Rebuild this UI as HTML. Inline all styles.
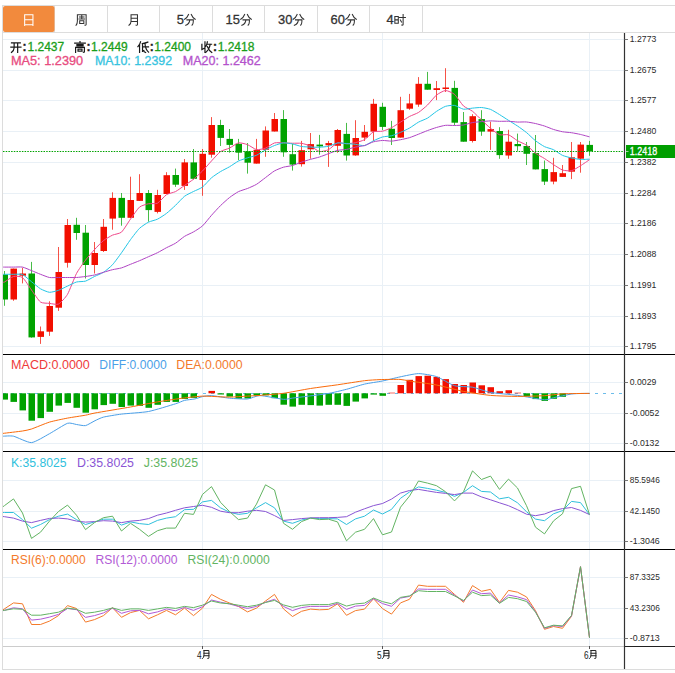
<!DOCTYPE html>
<html><head><meta charset="utf-8"><style>
html,body{margin:0;padding:0;background:#fff;width:675px;height:673px;overflow:hidden;}
svg{display:block;}
text{font-family:"Liberation Sans",sans-serif;}
</style></head><body>
<svg width="675" height="673" viewBox="0 0 675 673" font-family="Liberation Sans, sans-serif">
<rect width="675" height="673" fill="#ffffff"/>
<defs><clipPath id="cp"><rect x="3" y="33" width="621" height="613"/></clipPath></defs>
<line x1="2" y1="5.5" x2="675" y2="5.5" stroke="#dcdcdc" stroke-width="1"/>
<line x1="2" y1="32.5" x2="675" y2="32.5" stroke="#dddddd" stroke-width="1"/>
<line x1="54.5" y1="6" x2="54.5" y2="32" stroke="#dcdcdc" stroke-width="1"/>
<line x1="107.5" y1="6" x2="107.5" y2="32" stroke="#dcdcdc" stroke-width="1"/>
<line x1="159.5" y1="6" x2="159.5" y2="32" stroke="#dcdcdc" stroke-width="1"/>
<line x1="212.5" y1="6" x2="212.5" y2="32" stroke="#dcdcdc" stroke-width="1"/>
<line x1="264.5" y1="6" x2="264.5" y2="32" stroke="#dcdcdc" stroke-width="1"/>
<line x1="317.5" y1="6" x2="317.5" y2="32" stroke="#dcdcdc" stroke-width="1"/>
<line x1="369.5" y1="6" x2="369.5" y2="32" stroke="#dcdcdc" stroke-width="1"/>
<line x1="422.5" y1="6" x2="422.5" y2="32" stroke="#dcdcdc" stroke-width="1"/>
<rect x="3" y="6" width="51.5" height="26" rx="2" fill="#f28a3d"/>
<path transform="translate(23.05,14.00) scale(1.1500)" d="M1.4,0.6H8.6V9.4H1.4Z M1.4,5H8.6 M1.4,9.4V10 M8.6,9.4V10" fill="none" stroke="#ffffff" stroke-width="0.913" stroke-linecap="square"/>
<path transform="translate(75.55,14.00) scale(1.1500)" d="M1.6,0.6V6Q1.6,8.6 0.4,9.8 M1.6,0.6H9.2V9.2Q9.2,9.9 8.2,9.7 M3.4,2.6H7.4 M5.4,1.4V4.4 M3,4.4H7.8 M3.6,5.9H7.2V8.3H3.6Z" fill="none" stroke="#333333" stroke-width="0.913" stroke-linecap="square"/>
<path transform="translate(128.05,14.00) scale(1.1500)" d="M2.6,0.6V6Q2.6,8.6 0.8,9.8 M2.6,0.6H8.2V9.2Q8.2,9.9 7,9.7 M2.6,3.7H8.2 M2.6,6.5H8.2" fill="none" stroke="#333333" stroke-width="0.913" stroke-linecap="square"/>
<text x="176.7" y="24.2" fill="#333333" font-size="13" textLength="7.2" lengthAdjust="spacingAndGlyphs" stroke="#333333" stroke-width="0.3" >5</text>
<path transform="translate(184.15,14.00) scale(1.1500)" d="M3.8,0.4Q2.8,3 0.4,4.6 M6.2,0.4Q7.2,3 9.6,4.6 M2.4,5.1H8Q8,9.2 6.8,9.7 M4.9,5.1Q4.6,8.6 1.4,9.8" fill="none" stroke="#333333" stroke-width="0.913" stroke-linecap="square"/>
<text x="225.6" y="24.2" fill="#333333" font-size="13" textLength="14.4" lengthAdjust="spacingAndGlyphs" stroke="#333333" stroke-width="0.3" >15</text>
<path transform="translate(240.25,14.00) scale(1.1500)" d="M3.8,0.4Q2.8,3 0.4,4.6 M6.2,0.4Q7.2,3 9.6,4.6 M2.4,5.1H8Q8,9.2 6.8,9.7 M4.9,5.1Q4.6,8.6 1.4,9.8" fill="none" stroke="#333333" stroke-width="0.913" stroke-linecap="square"/>
<text x="278.1" y="24.2" fill="#333333" font-size="13" textLength="14.4" lengthAdjust="spacingAndGlyphs" stroke="#333333" stroke-width="0.3" >30</text>
<path transform="translate(292.75,14.00) scale(1.1500)" d="M3.8,0.4Q2.8,3 0.4,4.6 M6.2,0.4Q7.2,3 9.6,4.6 M2.4,5.1H8Q8,9.2 6.8,9.7 M4.9,5.1Q4.6,8.6 1.4,9.8" fill="none" stroke="#333333" stroke-width="0.913" stroke-linecap="square"/>
<text x="330.6" y="24.2" fill="#333333" font-size="13" textLength="14.4" lengthAdjust="spacingAndGlyphs" stroke="#333333" stroke-width="0.3" >60</text>
<path transform="translate(345.25,14.00) scale(1.1500)" d="M3.8,0.4Q2.8,3 0.4,4.6 M6.2,0.4Q7.2,3 9.6,4.6 M2.4,5.1H8Q8,9.2 6.8,9.7 M4.9,5.1Q4.6,8.6 1.4,9.8" fill="none" stroke="#333333" stroke-width="0.913" stroke-linecap="square"/>
<text x="386.6" y="24.2" fill="#333333" font-size="13" textLength="7.2" lengthAdjust="spacingAndGlyphs" stroke="#333333" stroke-width="0.3" >4</text>
<path transform="translate(394.15,14.00) scale(1.1500)" d="M0.6,2.2H3.6V8H0.6Z M0.6,5.1H3.6 M4.6,3H9.8 M7.8,0.4V9.2Q7.8,9.9 6.6,9.6 M5.4,5.2L6.4,7" fill="none" stroke="#333333" stroke-width="0.913" stroke-linecap="square"/>
<line x1="2.5" y1="5" x2="2.5" y2="670" stroke="#dcdcdc" stroke-width="1"/>
<line x1="2" y1="669.5" x2="675" y2="669.5" stroke="#dcdcdc" stroke-width="1"/>
<line x1="3" y1="39.5" x2="624" y2="39.5" stroke="#e9f0f6" stroke-width="1"/>
<line x1="3" y1="70.5" x2="624" y2="70.5" stroke="#e9f0f6" stroke-width="1"/>
<line x1="3" y1="100.5" x2="624" y2="100.5" stroke="#e9f0f6" stroke-width="1"/>
<line x1="3" y1="131.5" x2="624" y2="131.5" stroke="#e9f0f6" stroke-width="1"/>
<line x1="3" y1="162.5" x2="624" y2="162.5" stroke="#e9f0f6" stroke-width="1"/>
<line x1="3" y1="193.5" x2="624" y2="193.5" stroke="#e9f0f6" stroke-width="1"/>
<line x1="3" y1="223.5" x2="624" y2="223.5" stroke="#e9f0f6" stroke-width="1"/>
<line x1="3" y1="254.5" x2="624" y2="254.5" stroke="#e9f0f6" stroke-width="1"/>
<line x1="3" y1="285.5" x2="624" y2="285.5" stroke="#e9f0f6" stroke-width="1"/>
<line x1="3" y1="316.5" x2="624" y2="316.5" stroke="#e9f0f6" stroke-width="1"/>
<line x1="3" y1="346.5" x2="624" y2="346.5" stroke="#e9f0f6" stroke-width="1"/>
<line x1="3" y1="382.5" x2="624" y2="382.5" stroke="#e9f0f6" stroke-width="1"/>
<line x1="3" y1="413.5" x2="624" y2="413.5" stroke="#e9f0f6" stroke-width="1"/>
<line x1="3" y1="443.5" x2="624" y2="443.5" stroke="#e9f0f6" stroke-width="1"/>
<line x1="3" y1="480.5" x2="624" y2="480.5" stroke="#e9f0f6" stroke-width="1"/>
<line x1="3" y1="511.5" x2="624" y2="511.5" stroke="#e9f0f6" stroke-width="1"/>
<line x1="3" y1="541.5" x2="624" y2="541.5" stroke="#e9f0f6" stroke-width="1"/>
<line x1="3" y1="577.5" x2="624" y2="577.5" stroke="#e9f0f6" stroke-width="1"/>
<line x1="3" y1="608.5" x2="624" y2="608.5" stroke="#e9f0f6" stroke-width="1"/>
<line x1="3" y1="638.5" x2="624" y2="638.5" stroke="#e9f0f6" stroke-width="1"/>
<line x1="202.5" y1="33" x2="202.5" y2="646" stroke="#e9f0f6" stroke-width="1"/>
<line x1="382.5" y1="33" x2="382.5" y2="646" stroke="#e9f0f6" stroke-width="1"/>
<line x1="589.5" y1="33" x2="589.5" y2="646" stroke="#e9f0f6" stroke-width="1"/>
<line x1="3" y1="354.5" x2="675" y2="354.5" stroke="#000000" stroke-width="1"/>
<line x1="3" y1="451.5" x2="675" y2="451.5" stroke="#000000" stroke-width="1"/>
<line x1="3" y1="549.5" x2="675" y2="549.5" stroke="#000000" stroke-width="1"/>
<line x1="3" y1="646.5" x2="624" y2="646.5" stroke="#cccccc" stroke-width="1"/>
<line x1="624" y1="646.5" x2="675" y2="646.5" stroke="#222222" stroke-width="1.2"/>
<line x1="624.5" y1="33" x2="624.5" y2="669" stroke="#333333" stroke-width="1.2"/>
<line x1="624.5" y1="39.5" x2="628" y2="39.5" stroke="#777777" stroke-width="1"/>
<text x="629.8" y="42.1" fill="#2a2a2a" font-size="9.5" textLength="26.5" lengthAdjust="spacingAndGlyphs" >1.2773</text>
<line x1="624.5" y1="70.5" x2="628" y2="70.5" stroke="#777777" stroke-width="1"/>
<text x="629.8" y="73.1" fill="#2a2a2a" font-size="9.5" textLength="26.5" lengthAdjust="spacingAndGlyphs" >1.2675</text>
<line x1="624.5" y1="100.5" x2="628" y2="100.5" stroke="#777777" stroke-width="1"/>
<text x="629.8" y="103.1" fill="#2a2a2a" font-size="9.5" textLength="26.5" lengthAdjust="spacingAndGlyphs" >1.2577</text>
<line x1="624.5" y1="131.5" x2="628" y2="131.5" stroke="#777777" stroke-width="1"/>
<text x="629.8" y="134.1" fill="#2a2a2a" font-size="9.5" textLength="26.5" lengthAdjust="spacingAndGlyphs" >1.2480</text>
<line x1="624.5" y1="162.5" x2="628" y2="162.5" stroke="#777777" stroke-width="1"/>
<text x="629.8" y="165.1" fill="#2a2a2a" font-size="9.5" textLength="26.5" lengthAdjust="spacingAndGlyphs" >1.2382</text>
<line x1="624.5" y1="193.5" x2="628" y2="193.5" stroke="#777777" stroke-width="1"/>
<text x="629.8" y="196.1" fill="#2a2a2a" font-size="9.5" textLength="26.5" lengthAdjust="spacingAndGlyphs" >1.2284</text>
<line x1="624.5" y1="223.5" x2="628" y2="223.5" stroke="#777777" stroke-width="1"/>
<text x="629.8" y="226.1" fill="#2a2a2a" font-size="9.5" textLength="26.5" lengthAdjust="spacingAndGlyphs" >1.2186</text>
<line x1="624.5" y1="254.5" x2="628" y2="254.5" stroke="#777777" stroke-width="1"/>
<text x="629.8" y="257.1" fill="#2a2a2a" font-size="9.5" textLength="26.5" lengthAdjust="spacingAndGlyphs" >1.2088</text>
<line x1="624.5" y1="285.5" x2="628" y2="285.5" stroke="#777777" stroke-width="1"/>
<text x="629.8" y="288.1" fill="#2a2a2a" font-size="9.5" textLength="26.5" lengthAdjust="spacingAndGlyphs" >1.1991</text>
<line x1="624.5" y1="316.5" x2="628" y2="316.5" stroke="#777777" stroke-width="1"/>
<text x="629.8" y="319.1" fill="#2a2a2a" font-size="9.5" textLength="26.5" lengthAdjust="spacingAndGlyphs" >1.1893</text>
<line x1="624.5" y1="346.5" x2="628" y2="346.5" stroke="#777777" stroke-width="1"/>
<text x="629.8" y="349.1" fill="#2a2a2a" font-size="9.5" textLength="26.5" lengthAdjust="spacingAndGlyphs" >1.1795</text>
<line x1="624.5" y1="382.5" x2="628" y2="382.5" stroke="#777777" stroke-width="1"/>
<text x="629.8" y="385.1" fill="#2a2a2a" font-size="9.5" textLength="26.5" lengthAdjust="spacingAndGlyphs" >0.0029</text>
<line x1="624.5" y1="413.5" x2="628" y2="413.5" stroke="#777777" stroke-width="1"/>
<text x="629.8" y="416.1" fill="#2a2a2a" font-size="9.5" textLength="29.5" lengthAdjust="spacingAndGlyphs" >-0.0052</text>
<line x1="624.5" y1="443.5" x2="628" y2="443.5" stroke="#777777" stroke-width="1"/>
<text x="629.8" y="446.1" fill="#2a2a2a" font-size="9.5" textLength="29.5" lengthAdjust="spacingAndGlyphs" >-0.0132</text>
<line x1="624.5" y1="480.5" x2="628" y2="480.5" stroke="#777777" stroke-width="1"/>
<text x="629.8" y="483.1" fill="#2a2a2a" font-size="9.5" textLength="30" lengthAdjust="spacingAndGlyphs" >85.5946</text>
<line x1="624.5" y1="511.5" x2="628" y2="511.5" stroke="#777777" stroke-width="1"/>
<text x="629.8" y="514.1" fill="#2a2a2a" font-size="9.5" textLength="30" lengthAdjust="spacingAndGlyphs" >42.1450</text>
<line x1="624.5" y1="541.5" x2="628" y2="541.5" stroke="#777777" stroke-width="1"/>
<text x="629.8" y="544.1" fill="#2a2a2a" font-size="9.5" textLength="30" lengthAdjust="spacingAndGlyphs" >-1.3046</text>
<line x1="624.5" y1="577.5" x2="628" y2="577.5" stroke="#777777" stroke-width="1"/>
<text x="629.8" y="580.1" fill="#2a2a2a" font-size="9.5" textLength="30" lengthAdjust="spacingAndGlyphs" >87.3325</text>
<line x1="624.5" y1="608.5" x2="628" y2="608.5" stroke="#777777" stroke-width="1"/>
<text x="629.8" y="611.1" fill="#2a2a2a" font-size="9.5" textLength="30" lengthAdjust="spacingAndGlyphs" >43.2306</text>
<line x1="624.5" y1="638.5" x2="628" y2="638.5" stroke="#777777" stroke-width="1"/>
<text x="629.8" y="641.1" fill="#2a2a2a" font-size="9.5" textLength="30" lengthAdjust="spacingAndGlyphs" >-0.8713</text>
<line x1="202.5" y1="646" x2="202.5" y2="649" stroke="#555555" stroke-width="1"/>
<text x="196.9" y="659" fill="#222222" font-size="10.5" textLength="4.6" lengthAdjust="spacingAndGlyphs" >4</text>
<path transform="translate(201.70,650.00) scale(0.8800)" d="M2.6,0.6V6Q2.6,8.6 0.8,9.8 M2.6,0.6H8.2V9.2Q8.2,9.9 7,9.7 M2.6,3.7H8.2 M2.6,6.5H8.2" fill="none" stroke="#222222" stroke-width="1.136" stroke-linecap="square"/>
<line x1="382.5" y1="646" x2="382.5" y2="649" stroke="#555555" stroke-width="1"/>
<text x="376.9" y="659" fill="#222222" font-size="10.5" textLength="4.6" lengthAdjust="spacingAndGlyphs" >5</text>
<path transform="translate(381.70,650.00) scale(0.8800)" d="M2.6,0.6V6Q2.6,8.6 0.8,9.8 M2.6,0.6H8.2V9.2Q8.2,9.9 7,9.7 M2.6,3.7H8.2 M2.6,6.5H8.2" fill="none" stroke="#222222" stroke-width="1.136" stroke-linecap="square"/>
<line x1="589.5" y1="646" x2="589.5" y2="649" stroke="#555555" stroke-width="1"/>
<text x="583.9" y="659" fill="#222222" font-size="10.5" textLength="4.6" lengthAdjust="spacingAndGlyphs" >6</text>
<path transform="translate(588.70,650.00) scale(0.8800)" d="M2.6,0.6V6Q2.6,8.6 0.8,9.8 M2.6,0.6H8.2V9.2Q8.2,9.9 7,9.7 M2.6,3.7H8.2 M2.6,6.5H8.2" fill="none" stroke="#222222" stroke-width="1.136" stroke-linecap="square"/>
<g clip-path="url(#cp)">
<line x1="4.5" y1="271.0" x2="4.5" y2="305.8" stroke="#00a200" stroke-opacity="0.72" stroke-width="1"/>
<rect x="1.5" y="274.5" width="6.5" height="25.0" fill="#00a200"/>
<line x1="13.5" y1="268.6" x2="13.5" y2="300.8" stroke="#f20f00" stroke-opacity="0.72" stroke-width="1"/>
<rect x="10.5" y="268.6" width="6.5" height="30.9" fill="#f20f00"/>
<line x1="22.5" y1="267.8" x2="22.5" y2="283.4" stroke="#f20f00" stroke-opacity="0.72" stroke-width="1"/>
<rect x="19.5" y="273.5" width="6.5" height="2.2" fill="#f20f00"/>
<line x1="31.5" y1="261.9" x2="31.5" y2="337.7" stroke="#00a200" stroke-opacity="0.72" stroke-width="1"/>
<rect x="28.5" y="273.5" width="6.5" height="63.9" fill="#00a200"/>
<line x1="40.5" y1="326.5" x2="40.5" y2="343.9" stroke="#f20f00" stroke-opacity="0.72" stroke-width="1"/>
<rect x="37.5" y="331.3" width="6.5" height="5.6" fill="#f20f00"/>
<line x1="49.5" y1="301.3" x2="49.5" y2="335.9" stroke="#f20f00" stroke-opacity="0.72" stroke-width="1"/>
<rect x="46.5" y="306.0" width="6.5" height="25.7" fill="#f20f00"/>
<line x1="58.5" y1="247.0" x2="58.5" y2="310.9" stroke="#f20f00" stroke-opacity="0.72" stroke-width="1"/>
<rect x="55.5" y="272.0" width="6.5" height="35.7" fill="#f20f00"/>
<line x1="67.5" y1="219.0" x2="67.5" y2="267.6" stroke="#f20f00" stroke-opacity="0.72" stroke-width="1"/>
<rect x="64.5" y="225.0" width="6.5" height="37.8" fill="#f20f00"/>
<line x1="76.5" y1="217.8" x2="76.5" y2="239.8" stroke="#00a200" stroke-opacity="0.72" stroke-width="1"/>
<rect x="73.5" y="224.8" width="6.5" height="8.2" fill="#00a200"/>
<line x1="85.5" y1="225.0" x2="85.5" y2="278.5" stroke="#00a200" stroke-opacity="0.72" stroke-width="1"/>
<rect x="82.5" y="232.7" width="6.5" height="32.3" fill="#00a200"/>
<line x1="94.5" y1="242.0" x2="94.5" y2="273.5" stroke="#f20f00" stroke-opacity="0.72" stroke-width="1"/>
<rect x="91.5" y="253.0" width="6.5" height="12.0" fill="#f20f00"/>
<line x1="103.5" y1="219.0" x2="103.5" y2="252.0" stroke="#f20f00" stroke-opacity="0.72" stroke-width="1"/>
<rect x="100.5" y="226.8" width="6.5" height="24.2" fill="#f20f00"/>
<line x1="112.5" y1="192.3" x2="112.5" y2="229.7" stroke="#f20f00" stroke-opacity="0.72" stroke-width="1"/>
<rect x="109.5" y="197.9" width="6.5" height="20.7" fill="#f20f00"/>
<line x1="121.5" y1="193.0" x2="121.5" y2="225.7" stroke="#00a200" stroke-opacity="0.72" stroke-width="1"/>
<rect x="118.5" y="197.9" width="6.5" height="19.9" fill="#00a200"/>
<line x1="130.5" y1="176.7" x2="130.5" y2="218.0" stroke="#f20f00" stroke-opacity="0.72" stroke-width="1"/>
<rect x="127.5" y="200.0" width="6.5" height="17.8" fill="#f20f00"/>
<line x1="139.5" y1="174.2" x2="139.5" y2="201.0" stroke="#f20f00" stroke-opacity="0.72" stroke-width="1"/>
<rect x="136.5" y="193.0" width="6.5" height="7.9" fill="#f20f00"/>
<line x1="148.5" y1="190.0" x2="148.5" y2="221.7" stroke="#00a200" stroke-opacity="0.72" stroke-width="1"/>
<rect x="145.5" y="193.0" width="6.5" height="17.1" fill="#00a200"/>
<line x1="157.5" y1="189.8" x2="157.5" y2="213.4" stroke="#f20f00" stroke-opacity="0.72" stroke-width="1"/>
<rect x="154.5" y="195.0" width="6.5" height="16.9" fill="#f20f00"/>
<line x1="166.5" y1="172.2" x2="166.5" y2="194.0" stroke="#f20f00" stroke-opacity="0.72" stroke-width="1"/>
<rect x="163.5" y="175.2" width="6.5" height="18.8" fill="#f20f00"/>
<line x1="175.5" y1="168.6" x2="175.5" y2="186.9" stroke="#00a200" stroke-opacity="0.72" stroke-width="1"/>
<rect x="172.5" y="175.0" width="6.5" height="9.7" fill="#00a200"/>
<line x1="184.5" y1="159.0" x2="184.5" y2="189.9" stroke="#f20f00" stroke-opacity="0.72" stroke-width="1"/>
<rect x="181.5" y="162.4" width="6.5" height="23.5" fill="#f20f00"/>
<line x1="193.5" y1="149.0" x2="193.5" y2="179.5" stroke="#00a200" stroke-opacity="0.72" stroke-width="1"/>
<rect x="190.5" y="162.4" width="6.5" height="16.4" fill="#00a200"/>
<line x1="202.5" y1="149.0" x2="202.5" y2="195.8" stroke="#f20f00" stroke-opacity="0.72" stroke-width="1"/>
<rect x="199.5" y="153.8" width="6.5" height="26.2" fill="#f20f00"/>
<line x1="211.5" y1="117.1" x2="211.5" y2="157.7" stroke="#f20f00" stroke-opacity="0.72" stroke-width="1"/>
<rect x="208.5" y="125.0" width="6.5" height="29.7" fill="#f20f00"/>
<line x1="220.5" y1="119.8" x2="220.5" y2="146.0" stroke="#00a200" stroke-opacity="0.72" stroke-width="1"/>
<rect x="217.5" y="125.0" width="6.5" height="12.9" fill="#00a200"/>
<line x1="229.5" y1="129.0" x2="229.5" y2="152.7" stroke="#00a200" stroke-opacity="0.72" stroke-width="1"/>
<rect x="226.5" y="138.9" width="6.5" height="6.0" fill="#00a200"/>
<line x1="238.5" y1="138.9" x2="238.5" y2="160.2" stroke="#00a200" stroke-opacity="0.72" stroke-width="1"/>
<rect x="235.5" y="143.8" width="6.5" height="8.9" fill="#00a200"/>
<line x1="247.5" y1="143.0" x2="247.5" y2="173.6" stroke="#00a200" stroke-opacity="0.72" stroke-width="1"/>
<rect x="244.5" y="151.3" width="6.5" height="11.4" fill="#00a200"/>
<line x1="256.5" y1="138.9" x2="256.5" y2="163.6" stroke="#f20f00" stroke-opacity="0.72" stroke-width="1"/>
<rect x="253.5" y="149.8" width="6.5" height="13.8" fill="#f20f00"/>
<line x1="265.5" y1="126.4" x2="265.5" y2="156.8" stroke="#f20f00" stroke-opacity="0.72" stroke-width="1"/>
<rect x="262.5" y="130.5" width="6.5" height="19.3" fill="#f20f00"/>
<line x1="274.5" y1="113.0" x2="274.5" y2="131.5" stroke="#f20f00" stroke-opacity="0.72" stroke-width="1"/>
<rect x="271.5" y="119.0" width="6.5" height="12.5" fill="#f20f00"/>
<line x1="283.5" y1="110.1" x2="283.5" y2="156.8" stroke="#00a200" stroke-opacity="0.72" stroke-width="1"/>
<rect x="280.5" y="119.0" width="6.5" height="33.3" fill="#00a200"/>
<line x1="292.5" y1="143.8" x2="292.5" y2="170.6" stroke="#00a200" stroke-opacity="0.72" stroke-width="1"/>
<rect x="289.5" y="154.2" width="6.5" height="10.4" fill="#00a200"/>
<line x1="301.5" y1="140.9" x2="301.5" y2="166.6" stroke="#f20f00" stroke-opacity="0.72" stroke-width="1"/>
<rect x="298.5" y="150.2" width="6.5" height="14.0" fill="#f20f00"/>
<line x1="310.5" y1="133.0" x2="310.5" y2="158.7" stroke="#f20f00" stroke-opacity="0.72" stroke-width="1"/>
<rect x="307.5" y="144.1" width="6.5" height="5.2" fill="#f20f00"/>
<line x1="319.5" y1="134.9" x2="319.5" y2="154.7" stroke="#00a200" stroke-opacity="0.72" stroke-width="1"/>
<rect x="316.5" y="144.6" width="6.5" height="1.8" fill="#00a200"/>
<line x1="328.5" y1="140.9" x2="328.5" y2="166.9" stroke="#f20f00" stroke-opacity="0.72" stroke-width="1"/>
<rect x="325.5" y="143.1" width="6.5" height="2.2" fill="#f20f00"/>
<line x1="337.5" y1="129.0" x2="337.5" y2="152.7" stroke="#f20f00" stroke-opacity="0.72" stroke-width="1"/>
<rect x="334.5" y="130.0" width="6.5" height="15.8" fill="#f20f00"/>
<line x1="346.5" y1="122.9" x2="346.5" y2="160.6" stroke="#00a200" stroke-opacity="0.72" stroke-width="1"/>
<rect x="343.5" y="133.9" width="6.5" height="21.6" fill="#00a200"/>
<line x1="355.5" y1="120.2" x2="355.5" y2="155.8" stroke="#f20f00" stroke-opacity="0.72" stroke-width="1"/>
<rect x="352.5" y="138.0" width="6.5" height="17.4" fill="#f20f00"/>
<line x1="364.5" y1="125.0" x2="364.5" y2="141.0" stroke="#f20f00" stroke-opacity="0.72" stroke-width="1"/>
<rect x="361.5" y="131.8" width="6.5" height="5.8" fill="#f20f00"/>
<line x1="373.5" y1="98.9" x2="373.5" y2="141.0" stroke="#f20f00" stroke-opacity="0.72" stroke-width="1"/>
<rect x="370.5" y="103.8" width="6.5" height="27.8" fill="#f20f00"/>
<line x1="382.5" y1="102.8" x2="382.5" y2="130.1" stroke="#00a200" stroke-opacity="0.72" stroke-width="1"/>
<rect x="379.5" y="106.8" width="6.5" height="20.1" fill="#00a200"/>
<line x1="391.5" y1="120.9" x2="391.5" y2="145.0" stroke="#00a200" stroke-opacity="0.72" stroke-width="1"/>
<rect x="388.5" y="128.8" width="6.5" height="9.2" fill="#00a200"/>
<line x1="400.5" y1="96.8" x2="400.5" y2="137.6" stroke="#f20f00" stroke-opacity="0.72" stroke-width="1"/>
<rect x="397.5" y="110.2" width="6.5" height="27.4" fill="#f20f00"/>
<line x1="409.5" y1="93.9" x2="409.5" y2="109.8" stroke="#f20f00" stroke-opacity="0.72" stroke-width="1"/>
<rect x="406.5" y="103.4" width="6.5" height="5.3" fill="#f20f00"/>
<line x1="418.5" y1="77.1" x2="418.5" y2="106.8" stroke="#f20f00" stroke-opacity="0.72" stroke-width="1"/>
<rect x="415.5" y="83.8" width="6.5" height="20.8" fill="#f20f00"/>
<line x1="427.5" y1="71.9" x2="427.5" y2="89.7" stroke="#00a200" stroke-opacity="0.72" stroke-width="1"/>
<rect x="424.5" y="83.8" width="6.5" height="5.9" fill="#00a200"/>
<line x1="436.5" y1="81.0" x2="436.5" y2="100.1" stroke="#f20f00" stroke-opacity="0.72" stroke-width="1"/>
<rect x="433.5" y="88.2" width="6.5" height="1.8" fill="#f20f00"/>
<line x1="445.5" y1="68.2" x2="445.5" y2="92.0" stroke="#f20f00" stroke-opacity="0.72" stroke-width="1"/>
<rect x="442.5" y="87.5" width="6.5" height="1.5" fill="#f20f00"/>
<line x1="454.5" y1="80.8" x2="454.5" y2="125.4" stroke="#00a200" stroke-opacity="0.72" stroke-width="1"/>
<rect x="451.5" y="87.9" width="6.5" height="34.8" fill="#00a200"/>
<line x1="463.5" y1="112.0" x2="463.5" y2="141.7" stroke="#00a200" stroke-opacity="0.72" stroke-width="1"/>
<rect x="460.5" y="122.1" width="6.5" height="19.6" fill="#00a200"/>
<line x1="472.5" y1="114.2" x2="472.5" y2="142.5" stroke="#f20f00" stroke-opacity="0.72" stroke-width="1"/>
<rect x="469.5" y="116.2" width="6.5" height="24.8" fill="#f20f00"/>
<line x1="481.5" y1="110.2" x2="481.5" y2="135.8" stroke="#00a200" stroke-opacity="0.72" stroke-width="1"/>
<rect x="478.5" y="119.1" width="6.5" height="12.5" fill="#00a200"/>
<line x1="490.5" y1="121.7" x2="490.5" y2="149.9" stroke="#f20f00" stroke-opacity="0.72" stroke-width="1"/>
<rect x="487.5" y="129.1" width="6.5" height="2.5" fill="#f20f00"/>
<line x1="499.5" y1="127.2" x2="499.5" y2="158.8" stroke="#00a200" stroke-opacity="0.72" stroke-width="1"/>
<rect x="496.5" y="131.0" width="6.5" height="24.1" fill="#00a200"/>
<line x1="508.5" y1="129.8" x2="508.5" y2="158.8" stroke="#f20f00" stroke-opacity="0.72" stroke-width="1"/>
<rect x="505.5" y="141.7" width="6.5" height="13.8" fill="#f20f00"/>
<line x1="517.5" y1="133.6" x2="517.5" y2="150.9" stroke="#00a200" stroke-opacity="0.72" stroke-width="1"/>
<rect x="514.5" y="144.0" width="6.5" height="2.2" fill="#00a200"/>
<line x1="526.5" y1="142.0" x2="526.5" y2="165.0" stroke="#00a200" stroke-opacity="0.72" stroke-width="1"/>
<rect x="523.5" y="146.0" width="6.5" height="7.8" fill="#00a200"/>
<line x1="535.5" y1="135.0" x2="535.5" y2="169.4" stroke="#00a200" stroke-opacity="0.72" stroke-width="1"/>
<rect x="532.5" y="153.1" width="6.5" height="16.3" fill="#00a200"/>
<line x1="544.5" y1="160.5" x2="544.5" y2="185.0" stroke="#00a200" stroke-opacity="0.72" stroke-width="1"/>
<rect x="541.5" y="169.1" width="6.5" height="12.5" fill="#00a200"/>
<line x1="553.5" y1="157.8" x2="553.5" y2="184.3" stroke="#f20f00" stroke-opacity="0.72" stroke-width="1"/>
<rect x="550.5" y="172.1" width="6.5" height="9.5" fill="#f20f00"/>
<line x1="562.5" y1="165.0" x2="562.5" y2="176.9" stroke="#f20f00" stroke-opacity="0.72" stroke-width="1"/>
<rect x="559.5" y="173.2" width="6.5" height="3.7" fill="#f20f00"/>
<line x1="571.5" y1="142.0" x2="571.5" y2="179.1" stroke="#f20f00" stroke-opacity="0.72" stroke-width="1"/>
<rect x="568.5" y="157.3" width="6.5" height="14.4" fill="#f20f00"/>
<line x1="580.5" y1="142.0" x2="580.5" y2="172.7" stroke="#f20f00" stroke-opacity="0.72" stroke-width="1"/>
<rect x="577.5" y="144.6" width="6.5" height="14.1" fill="#f20f00"/>
<line x1="589.5" y1="140.9" x2="589.5" y2="155.8" stroke="#00a200" stroke-opacity="0.72" stroke-width="1"/>
<rect x="586.5" y="144.9" width="6.5" height="6.4" fill="#00a200"/>
<path d="M3.00,282.00 C3.15,282.00 3.45,282.55 4.50,282.00 C5.55,281.45 11.70,276.95 13.50,276.50 C15.30,276.05 20.70,276.15 22.50,277.50 C24.30,278.85 29.70,287.54 31.50,290.00 C33.30,292.46 38.70,300.72 40.50,302.06 C42.30,303.40 47.70,303.16 49.50,303.36 C51.30,303.56 56.70,304.94 58.50,304.04 C60.30,303.14 65.70,297.40 67.50,294.34 C69.30,291.28 74.70,276.87 76.50,273.46 C78.30,270.05 83.70,262.59 85.50,260.20 C87.30,257.81 92.70,251.56 94.50,249.60 C96.30,247.64 101.70,242.01 103.50,240.56 C105.30,239.11 110.70,235.99 112.50,235.14 C114.30,234.29 119.70,233.70 121.50,232.10 C123.30,230.50 128.70,221.60 130.50,219.10 C132.30,216.60 137.70,208.63 139.50,207.10 C141.30,205.57 146.70,204.15 148.50,203.76 C150.30,203.37 155.70,204.09 157.50,203.18 C159.30,202.27 164.70,195.82 166.50,194.66 C168.30,193.50 173.70,192.52 175.50,191.60 C177.30,190.68 182.70,186.72 184.50,185.48 C186.30,184.24 191.70,180.67 193.50,179.22 C195.30,177.77 200.70,172.81 202.50,170.98 C204.30,169.15 209.70,162.88 211.50,160.94 C213.30,159.00 218.70,152.87 220.50,151.58 C222.30,150.29 227.70,148.95 229.50,148.08 C231.30,147.21 236.70,143.20 238.50,142.86 C240.30,142.52 245.70,143.97 247.50,144.64 C249.30,145.31 254.70,149.25 256.50,149.60 C258.30,149.95 263.70,148.79 265.50,148.12 C267.30,147.45 272.70,143.47 274.50,142.94 C276.30,142.41 281.70,142.83 283.50,142.86 C285.30,142.89 290.70,143.19 292.50,143.24 C294.30,143.29 299.70,143.04 301.50,143.32 C303.30,143.60 308.70,145.22 310.50,146.04 C312.30,146.86 317.70,151.16 319.50,151.52 C321.30,151.88 326.70,150.56 328.50,149.68 C330.30,148.80 335.70,143.35 337.50,142.76 C339.30,142.17 344.70,143.84 346.50,143.82 C348.30,143.80 353.70,143.01 355.50,142.60 C357.30,142.19 362.70,140.76 364.50,139.68 C366.30,138.60 371.70,132.67 373.50,131.82 C375.30,130.97 380.70,131.61 382.50,131.20 C384.30,130.79 389.70,128.61 391.50,127.70 C393.30,126.79 398.70,123.26 400.50,122.14 C402.30,121.02 407.70,117.43 409.50,116.46 C411.30,115.49 416.70,113.60 418.50,112.46 C420.30,111.32 425.70,106.76 427.50,105.02 C429.30,103.28 434.70,96.51 436.50,95.06 C438.30,93.61 443.70,90.59 445.50,90.52 C447.30,90.45 452.70,92.84 454.50,94.38 C456.30,95.92 461.70,104.27 463.50,105.96 C465.30,107.65 470.70,109.86 472.50,111.26 C474.30,112.66 479.70,118.24 481.50,119.94 C483.30,121.64 488.70,126.78 490.50,128.26 C492.30,129.74 497.70,134.09 499.50,134.74 C501.30,135.39 506.70,134.14 508.50,134.74 C510.30,135.34 515.70,139.70 517.50,140.74 C519.30,141.78 524.70,143.93 526.50,145.18 C528.30,146.43 533.70,151.90 535.50,153.24 C537.30,154.58 542.70,157.40 544.50,158.54 C546.30,159.68 551.70,163.47 553.50,164.62 C555.30,165.77 560.70,169.41 562.50,170.02 C564.30,170.63 569.70,171.15 571.50,170.72 C573.30,170.29 578.70,166.86 580.50,165.76 C582.30,164.66 588.60,160.31 589.50,159.70" fill="none" stroke="#f0488a" stroke-width="1.0"/>
<path d="M3.00,274.30 C3.15,274.30 3.45,274.30 4.50,274.30 C5.55,274.30 11.70,274.27 13.50,274.30 C15.30,274.33 20.70,273.86 22.50,274.60 C24.30,275.34 29.70,280.28 31.50,281.70 C33.30,283.12 38.70,287.74 40.50,288.80 C42.30,289.86 47.70,292.15 49.50,292.30 C51.30,292.45 56.70,290.92 58.50,290.30 C60.30,289.68 65.70,286.93 67.50,286.10 C69.30,285.27 74.70,282.50 76.50,282.00 C78.30,281.50 83.70,281.68 85.50,281.13 C87.30,280.58 92.70,277.36 94.50,276.48 C96.30,275.60 101.70,273.47 103.50,272.30 C105.30,271.13 110.70,266.69 112.50,264.74 C114.30,262.79 119.70,255.29 121.50,252.78 C123.30,250.27 128.70,242.09 130.50,239.65 C132.30,237.21 137.70,230.10 139.50,228.35 C141.30,226.60 146.70,223.08 148.50,222.16 C150.30,221.24 155.70,220.04 157.50,219.16 C159.30,218.28 164.70,214.76 166.50,213.38 C168.30,212.00 173.70,207.06 175.50,205.35 C177.30,203.64 182.70,197.68 184.50,196.29 C186.30,194.90 191.70,192.41 193.50,191.49 C195.30,190.57 200.70,188.45 202.50,187.08 C204.30,185.71 209.70,179.35 211.50,177.80 C213.30,176.25 218.70,172.69 220.50,171.59 C222.30,170.49 227.70,167.84 229.50,166.78 C231.30,165.72 236.70,161.94 238.50,161.04 C240.30,160.14 245.70,158.39 247.50,157.81 C249.30,157.23 254.70,156.07 256.50,155.27 C258.30,154.47 263.70,150.83 265.50,149.85 C267.30,148.87 272.70,146.21 274.50,145.51 C276.30,144.81 281.70,143.02 283.50,142.86 C285.30,142.70 290.70,143.58 292.50,143.94 C294.30,144.30 299.70,146.15 301.50,146.46 C303.30,146.77 308.70,147.00 310.50,147.08 C312.30,147.16 317.70,147.31 319.50,147.23 C321.30,147.15 326.70,146.69 328.50,146.27 C330.30,145.85 335.70,143.27 337.50,143.00 C339.30,142.73 344.70,143.44 346.50,143.57 C348.30,143.70 353.70,144.12 355.50,144.32 C357.30,144.52 362.70,145.96 364.50,145.60 C366.30,145.24 371.70,141.61 373.50,140.75 C375.30,139.89 380.70,137.48 382.50,136.98 C384.30,136.48 389.70,136.22 391.50,135.76 C393.30,135.30 398.70,133.14 400.50,132.37 C402.30,131.60 407.70,129.09 409.50,128.07 C411.30,127.05 416.70,123.14 418.50,122.14 C420.30,121.14 425.70,119.19 427.50,118.11 C429.30,117.03 434.70,112.56 436.50,111.38 C438.30,110.20 443.70,106.93 445.50,106.33 C447.30,105.73 452.70,105.13 454.50,105.42 C456.30,105.71 461.70,108.94 463.50,109.21 C465.30,109.48 470.70,108.31 472.50,108.14 C474.30,107.97 479.70,107.38 481.50,107.50 C483.30,107.62 488.70,108.68 490.50,109.39 C492.30,110.10 497.70,113.46 499.50,114.56 C501.30,115.66 506.70,119.21 508.50,120.35 C510.30,121.49 515.70,124.78 517.50,126.00 C519.30,127.22 524.70,131.09 526.50,132.56 C528.30,134.03 533.70,139.34 535.50,140.75 C537.30,142.16 542.70,145.75 544.50,146.64 C546.30,147.53 551.70,148.81 553.50,149.68 C555.30,150.55 560.70,154.55 562.50,155.38 C564.30,156.21 569.70,157.54 571.50,157.95 C573.30,158.36 578.70,159.38 580.50,159.50 C582.30,159.62 588.60,159.16 589.50,159.12" fill="none" stroke="#24c6e6" stroke-width="1.0"/>
<path d="M3.00,267.10 C3.15,267.10 3.45,267.10 4.50,267.10 C5.55,267.10 11.70,267.10 13.50,267.10 C15.30,267.10 20.70,266.75 22.50,267.10 C24.30,267.45 29.70,269.88 31.50,270.60 C33.30,271.32 38.70,273.61 40.50,274.30 C42.30,274.99 47.70,277.18 49.50,277.50 C51.30,277.82 56.70,277.50 58.50,277.50 C60.30,277.50 65.70,277.50 67.50,277.50 C69.30,277.50 74.70,277.60 76.50,277.50 C78.30,277.40 83.70,276.75 85.50,276.50 C87.30,276.25 92.70,275.42 94.50,275.00 C96.30,274.58 101.70,272.83 103.50,272.30 C105.30,271.77 110.70,270.14 112.50,269.70 C114.30,269.26 119.70,268.44 121.50,267.90 C123.30,267.36 128.70,265.02 130.50,264.30 C132.30,263.58 137.70,261.46 139.50,260.70 C141.30,259.94 146.70,257.50 148.50,256.70 C150.30,255.90 155.70,253.60 157.50,252.70 C159.30,251.80 164.70,248.65 166.50,247.70 C168.30,246.75 173.70,244.37 175.50,243.24 C177.30,242.11 182.70,237.52 184.50,236.38 C186.30,235.25 191.70,232.94 193.50,231.89 C195.30,230.85 200.70,227.57 202.50,225.91 C204.30,224.25 209.70,217.32 211.50,215.29 C213.30,213.26 218.70,207.39 220.50,205.62 C222.30,203.85 227.70,198.97 229.50,197.56 C231.30,196.16 236.70,192.51 238.50,191.60 C240.30,190.69 245.70,189.21 247.50,188.48 C249.30,187.76 254.70,185.41 256.50,184.32 C258.30,183.24 263.70,178.94 265.50,177.60 C267.30,176.26 272.70,171.94 274.50,170.90 C276.30,169.86 281.70,167.71 283.50,167.18 C285.30,166.64 290.70,166.01 292.50,165.51 C294.30,165.01 299.70,162.75 301.50,162.13 C303.30,161.51 308.70,159.85 310.50,159.33 C312.30,158.82 317.70,157.57 319.50,157.00 C321.30,156.44 326.70,154.31 328.50,153.66 C330.30,153.00 335.70,150.83 337.50,150.41 C339.30,149.98 344.70,149.75 346.50,149.42 C348.30,149.09 353.70,147.47 355.50,147.08 C357.30,146.70 362.70,146.08 364.50,145.56 C366.30,145.03 371.70,142.31 373.50,141.81 C375.30,141.30 380.70,140.53 382.50,140.46 C384.30,140.39 389.70,141.18 391.50,141.11 C393.30,141.04 398.70,140.07 400.50,139.72 C402.30,139.38 407.70,138.20 409.50,137.65 C411.30,137.10 416.70,134.91 418.50,134.20 C420.30,133.50 425.70,131.23 427.50,130.56 C429.30,129.88 434.70,128.00 436.50,127.47 C438.30,126.95 443.70,125.52 445.50,125.33 C447.30,125.13 452.70,125.54 454.50,125.51 C456.30,125.48 461.70,125.27 463.50,124.98 C465.30,124.68 470.70,122.89 472.50,122.56 C474.30,122.22 479.70,121.80 481.50,121.63 C483.30,121.46 488.70,120.91 490.50,120.88 C492.30,120.85 497.70,121.28 499.50,121.32 C501.30,121.35 506.70,121.17 508.50,121.25 C510.30,121.32 515.70,121.98 517.50,122.05 C519.30,122.13 524.70,121.82 526.50,121.97 C528.30,122.12 533.70,123.13 535.50,123.54 C537.30,123.95 542.70,125.44 544.50,126.03 C546.30,126.62 551.70,128.87 553.50,129.44 C555.30,130.02 560.70,131.43 562.50,131.76 C564.30,132.09 569.70,132.46 571.50,132.72 C573.30,132.99 578.70,134.03 580.50,134.44 C582.30,134.86 588.60,136.60 589.50,136.84" fill="none" stroke="#b044c4" stroke-width="1.0"/>
</g>
<line x1="3" y1="151.5" x2="624" y2="151.5" stroke="#00a200" stroke-width="1.2" stroke-dasharray="1.5,1.2"/>
<rect x="626" y="145" width="49" height="13" fill="#009e00"/>
<text x="629.8" y="155" fill="#ffffff" font-size="10.5" textLength="27.3" lengthAdjust="spacingAndGlyphs" stroke="#ffffff" stroke-width="0.3">1.2418</text>
<line x1="626" y1="151.5" x2="628.5" y2="151.5" stroke="#9fd89f" stroke-width="1"/>
<line x1="3" y1="393.5" x2="624" y2="393.5" stroke="#6cbcea" stroke-width="1" stroke-dasharray="3,5"/>
<rect x="3" y="393.3" width="5.0" height="6.3" fill="#00a200"/>
<rect x="10.5" y="393.3" width="6.5" height="8.6" fill="#00a200"/>
<rect x="19.5" y="393.3" width="6.5" height="17.1" fill="#00a200"/>
<rect x="28.5" y="393.3" width="6.5" height="27.4" fill="#00a200"/>
<rect x="37.5" y="393.3" width="6.5" height="24.8" fill="#00a200"/>
<rect x="46.5" y="393.3" width="6.5" height="18.5" fill="#00a200"/>
<rect x="55.5" y="393.3" width="6.5" height="12.3" fill="#00a200"/>
<rect x="64.5" y="393.3" width="6.5" height="9.6" fill="#00a200"/>
<rect x="73.5" y="393.3" width="6.5" height="14.5" fill="#00a200"/>
<rect x="82.5" y="393.3" width="6.5" height="19.4" fill="#00a200"/>
<rect x="91.5" y="393.3" width="6.5" height="16.0" fill="#00a200"/>
<rect x="100.5" y="393.3" width="6.5" height="11.8" fill="#00a200"/>
<rect x="109.5" y="393.3" width="6.5" height="10.5" fill="#00a200"/>
<rect x="118.5" y="393.3" width="6.5" height="13.7" fill="#00a200"/>
<rect x="127.5" y="393.3" width="6.5" height="12.3" fill="#00a200"/>
<rect x="136.5" y="393.3" width="6.5" height="12.6" fill="#00a200"/>
<rect x="145.5" y="393.3" width="6.5" height="14.5" fill="#00a200"/>
<rect x="154.5" y="393.3" width="6.5" height="11.5" fill="#00a200"/>
<rect x="163.5" y="393.3" width="6.5" height="8.6" fill="#00a200"/>
<rect x="172.5" y="393.3" width="6.5" height="8.6" fill="#00a200"/>
<rect x="181.5" y="393.3" width="6.5" height="5.6" fill="#00a200"/>
<rect x="190.5" y="393.3" width="6.5" height="4.6" fill="#00a200"/>
<rect x="208.5" y="390.9" width="6.5" height="2.4" fill="#f20f00"/>
<rect x="217.5" y="393.3" width="6.5" height="1.2" fill="#00a200"/>
<rect x="226.5" y="393.3" width="6.5" height="3.3" fill="#00a200"/>
<rect x="235.5" y="393.3" width="6.5" height="5.4" fill="#00a200"/>
<rect x="244.5" y="393.3" width="6.5" height="5.2" fill="#00a200"/>
<rect x="253.5" y="393.3" width="6.5" height="2.4" fill="#00a200"/>
<rect x="262.5" y="393.3" width="6.5" height="2.0" fill="#00a200"/>
<rect x="271.5" y="393.3" width="6.5" height="4.9" fill="#00a200"/>
<rect x="280.5" y="393.3" width="6.5" height="11.4" fill="#00a200"/>
<rect x="289.5" y="393.3" width="6.5" height="13.3" fill="#00a200"/>
<rect x="298.5" y="393.3" width="6.5" height="11.5" fill="#00a200"/>
<rect x="307.5" y="393.3" width="6.5" height="11.8" fill="#00a200"/>
<rect x="316.5" y="393.3" width="6.5" height="12.3" fill="#00a200"/>
<rect x="325.5" y="393.3" width="6.5" height="11.5" fill="#00a200"/>
<rect x="334.5" y="393.3" width="6.5" height="11.5" fill="#00a200"/>
<rect x="343.5" y="393.3" width="6.5" height="12.6" fill="#00a200"/>
<rect x="352.5" y="393.3" width="6.5" height="8.3" fill="#00a200"/>
<rect x="361.5" y="393.3" width="6.5" height="5.1" fill="#00a200"/>
<rect x="370.5" y="393.3" width="6.5" height="1.3" fill="#00a200"/>
<rect x="379.5" y="393.3" width="6.5" height="2.5" fill="#00a200"/>
<rect x="388.5" y="392.7" width="6.5" height="0.6" fill="#f20f00"/>
<rect x="397.5" y="385.0" width="6.5" height="8.3" fill="#f20f00"/>
<rect x="406.5" y="379.8" width="6.5" height="13.5" fill="#f20f00"/>
<rect x="415.5" y="376.1" width="6.5" height="17.2" fill="#f20f00"/>
<rect x="424.5" y="375.7" width="6.5" height="17.6" fill="#f20f00"/>
<rect x="433.5" y="376.9" width="6.5" height="16.4" fill="#f20f00"/>
<rect x="442.5" y="379.1" width="6.5" height="14.2" fill="#f20f00"/>
<rect x="451.5" y="384.0" width="6.5" height="9.3" fill="#f20f00"/>
<rect x="460.5" y="385.0" width="6.5" height="8.3" fill="#f20f00"/>
<rect x="469.5" y="382.5" width="6.5" height="10.8" fill="#f20f00"/>
<rect x="478.5" y="385.3" width="6.5" height="8.0" fill="#f20f00"/>
<rect x="487.5" y="387.2" width="6.5" height="6.1" fill="#f20f00"/>
<rect x="496.5" y="391.2" width="6.5" height="2.1" fill="#f20f00"/>
<rect x="505.5" y="390.2" width="6.5" height="3.1" fill="#f20f00"/>
<rect x="514.5" y="392.7" width="6.5" height="0.6" fill="#f20f00"/>
<rect x="523.5" y="393.3" width="6.5" height="3.1" fill="#00a200"/>
<rect x="532.5" y="393.3" width="6.5" height="5.8" fill="#00a200"/>
<rect x="541.5" y="393.3" width="6.5" height="7.6" fill="#00a200"/>
<rect x="550.5" y="393.3" width="6.5" height="5.5" fill="#00a200"/>
<rect x="559.5" y="393.3" width="6.5" height="3.5" fill="#00a200"/>
<path d="M3.00,436.20 C4.05,436.20 10.65,435.56 13.50,436.20 C16.35,436.84 27.90,442.85 31.50,442.60 C35.10,442.35 45.90,435.63 49.50,433.70 C53.10,431.77 64.80,424.22 67.50,423.30 C70.20,422.38 74.70,424.27 76.50,424.50 C78.30,424.73 83.65,425.98 85.50,425.60 C87.35,425.22 93.20,421.55 95.00,420.70 C96.80,419.85 100.85,417.76 103.50,417.10 C106.15,416.44 117.00,414.66 121.50,414.10 C126.00,413.54 143.10,412.53 148.50,411.50 C153.90,410.47 171.90,404.91 175.50,403.80 C179.10,402.69 182.55,400.89 184.50,400.40 C186.45,399.91 193.20,399.28 195.00,398.90 C196.80,398.52 200.85,396.93 202.50,396.60 C204.15,396.27 208.80,395.44 211.50,395.60 C214.20,395.76 225.90,397.86 229.50,398.20 C233.10,398.54 244.45,399.26 247.50,399.00 C250.55,398.74 256.40,395.57 260.00,395.60 C263.60,395.63 280.25,399.05 283.50,399.30 C286.75,399.55 288.15,398.66 292.50,398.10 C296.85,397.54 321.60,394.58 327.00,393.70 C332.40,392.82 342.75,390.26 346.50,389.30 C350.25,388.34 360.90,384.93 364.50,384.10 C368.10,383.27 378.95,381.72 382.50,381.00 C386.05,380.28 396.40,377.64 400.00,376.90 C403.60,376.16 414.85,373.63 418.50,373.60 C422.15,373.57 432.90,375.39 436.50,376.60 C440.10,377.81 450.90,384.64 454.50,385.70 C458.10,386.76 468.90,386.53 472.50,387.20 C476.10,387.87 486.00,391.58 490.50,392.40 C495.00,393.22 512.10,394.66 517.50,395.40 C522.90,396.14 540.90,399.57 544.50,399.80 C548.10,400.03 550.80,398.28 553.50,397.70 C556.20,397.12 568.80,394.42 571.50,394.00 C574.20,393.58 578.70,393.56 580.50,393.50 C582.30,393.44 588.60,393.41 589.50,393.40" fill="none" stroke="#4a9fe8" stroke-width="1.0"/>
<path d="M3.00,433.40 C4.95,433.16 19.65,431.44 22.50,431.00 C25.35,430.56 28.80,429.89 31.50,429.00 C34.20,428.11 45.90,423.19 49.50,422.10 C53.10,421.01 63.90,418.79 67.50,418.10 C71.10,417.41 82.75,415.71 85.50,415.20 C88.25,414.69 90.50,413.82 95.00,413.00 C99.50,412.18 124.25,408.11 130.50,407.00 C136.75,405.89 152.10,402.81 157.50,401.90 C162.90,400.99 180.00,398.48 184.50,397.90 C189.00,397.32 199.80,396.25 202.50,396.10 C205.20,395.95 208.80,396.30 211.50,396.40 C214.20,396.50 225.90,397.13 229.50,397.10 C233.10,397.07 244.45,396.27 247.50,396.10 C250.55,395.93 256.40,395.68 260.00,395.40 C263.60,395.12 278.45,393.99 283.50,393.30 C288.55,392.61 305.10,389.35 310.50,388.50 C315.90,387.65 332.10,385.58 337.50,384.80 C342.90,384.02 360.25,381.22 364.50,380.70 C368.75,380.18 376.45,379.73 380.00,379.60 C383.55,379.47 397.05,379.26 400.00,379.40 C402.95,379.54 405.85,380.44 409.50,381.00 C413.15,381.56 431.10,383.96 436.50,385.00 C441.90,386.04 458.10,390.36 463.50,391.40 C468.90,392.44 485.10,394.90 490.50,395.40 C495.90,395.90 512.10,396.37 517.50,396.40 C522.90,396.43 540.00,395.96 544.50,395.70 C549.00,395.44 558.00,394.03 562.50,393.80 C567.00,393.57 586.80,393.44 589.50,393.40" fill="none" stroke="#fa6a0a" stroke-width="1.0"/>
<polyline points="3.0,512.5 4.5,512.5 13.5,512.5 22.5,519.6 31.5,528.2 40.5,524.5 49.5,519.6 58.5,516.2 67.5,514.1 76.5,519.6 85.5,524.5 94.5,521.9 103.5,519.2 112.5,519.2 121.5,525.1 130.5,521.9 139.5,523.6 148.5,524.5 157.5,520.4 166.5,518.1 175.5,516.7 184.5,509.7 193.5,509.3 202.5,501.9 211.5,500.4 220.5,507.8 229.5,512.2 238.5,514.4 247.5,513.3 256.5,507.8 265.5,502.6 274.5,507.8 283.5,521.1 292.5,523.3 301.5,520.1 310.5,518.1 319.5,518.6 328.5,518.6 337.5,518.9 346.5,524.5 355.5,518.9 364.5,516.2 373.5,510.0 382.5,514.0 391.5,509.4 400.5,498.3 409.5,492.0 418.5,486.9 427.5,488.4 436.5,490.2 445.5,492.4 454.5,496.4 463.5,492.4 472.5,485.7 481.5,491.4 490.5,492.0 499.5,498.8 508.5,497.3 517.5,502.8 526.5,511.7 535.5,519.1 544.5,520.7 553.5,513.8 562.5,510.6 571.5,501.4 580.5,502.6 589.5,514.6" fill="none" stroke="#2fc0dc" stroke-width="1.0" stroke-linejoin="round"/>
<polyline points="3.0,516.5 4.5,516.7 13.5,518.1 22.5,521.1 31.5,522.6 40.5,520.4 49.5,518.4 58.5,518.1 67.5,518.9 76.5,521.1 85.5,522.1 94.5,521.6 103.5,520.7 112.5,521.1 121.5,522.6 130.5,521.1 139.5,520.4 148.5,518.6 157.5,515.2 166.5,513.0 175.5,510.3 184.5,507.8 193.5,506.5 202.5,505.3 211.5,507.3 220.5,511.2 229.5,512.7 238.5,512.7 247.5,511.2 256.5,510.3 265.5,511.5 274.5,515.6 283.5,520.4 292.5,519.6 301.5,518.6 310.5,517.9 319.5,517.7 328.5,517.7 337.5,517.4 346.5,516.7 355.5,512.2 364.5,508.8 373.5,505.6 382.5,503.5 391.5,499.1 400.5,493.1 409.5,490.5 418.5,489.4 427.5,490.9 436.5,492.4 445.5,493.4 454.5,494.6 463.5,493.1 472.5,493.1 481.5,496.9 490.5,499.8 499.5,502.8 508.5,505.7 517.5,509.7 526.5,514.2 535.5,515.7 544.5,514.0 553.5,510.6 562.5,508.6 571.5,507.5 580.5,510.4 589.5,514.6" fill="none" stroke="#8a55d4" stroke-width="1.0" stroke-linejoin="round"/>
<polyline points="3.0,506.7 4.5,505.6 13.5,498.9 22.5,513.0 31.5,538.4 40.5,532.2 49.5,521.1 58.5,511.5 67.5,505.1 76.5,515.2 85.5,529.6 94.5,522.6 103.5,517.7 112.5,516.2 121.5,531.0 130.5,523.3 139.5,529.3 148.5,536.4 157.5,530.7 166.5,528.1 175.5,528.1 184.5,513.3 193.5,514.4 202.5,494.4 211.5,486.6 220.5,502.3 229.5,511.5 238.5,519.6 247.5,518.1 256.5,504.1 265.5,484.8 274.5,490.0 283.5,523.3 292.5,529.3 301.5,521.6 310.5,518.1 319.5,519.6 328.5,519.2 337.5,521.9 346.5,540.8 355.5,532.2 364.5,529.3 373.5,518.6 382.5,534.8 391.5,532.0 400.5,507.2 409.5,496.1 418.5,481.0 427.5,483.1 436.5,485.7 445.5,491.7 454.5,500.9 463.5,491.7 472.5,470.9 481.5,479.5 490.5,476.1 499.5,489.4 508.5,479.1 517.5,488.0 526.5,505.7 535.5,527.2 544.5,533.9 553.5,520.9 562.5,513.8 571.5,488.6 580.5,486.3 589.5,514.6" fill="none" stroke="#62b462" stroke-width="1.0" stroke-linejoin="round"/>
<polyline points="3.0,609.8 4.5,608.8 13.5,602.9 22.5,603.8 31.5,624.5 40.5,624.5 49.5,621.1 58.5,615.6 67.5,605.6 76.5,608.5 85.5,622.1 94.5,619.6 103.5,615.6 112.5,607.7 121.5,617.3 130.5,612.6 139.5,610.4 148.5,618.8 157.5,614.8 166.5,610.4 175.5,614.8 184.5,608.1 193.5,615.6 202.5,608.1 211.5,594.4 220.5,599.3 229.5,603.0 238.5,606.4 247.5,611.9 256.5,608.1 265.5,601.0 274.5,594.4 283.5,608.9 292.5,616.5 301.5,611.3 310.5,609.1 319.5,609.8 328.5,609.4 337.5,603.9 346.5,615.3 355.5,610.6 364.5,609.1 373.5,598.7 382.5,608.6 391.5,614.1 400.5,602.9 409.5,599.3 418.5,585.1 427.5,586.3 436.5,586.3 445.5,586.3 454.5,594.4 463.5,602.3 472.5,585.6 481.5,591.3 490.5,589.4 499.5,602.4 508.5,590.4 517.5,592.2 526.5,596.9 535.5,610.7 544.5,629.3 553.5,626.5 562.5,628.3 571.5,616.3 580.5,566.7 589.5,637.7" fill="none" stroke="#f47a2a" stroke-width="1.0" stroke-linejoin="round"/>
<polyline points="3.0,610.7 4.5,610.3 13.5,607.8 22.5,608.8 31.5,620.1 40.5,619.2 49.5,617.1 58.5,614.4 67.5,608.5 76.5,609.7 85.5,617.4 94.5,615.6 103.5,612.9 112.5,608.1 121.5,613.3 130.5,610.8 139.5,610.4 148.5,613.8 157.5,611.9 166.5,608.9 175.5,610.8 184.5,607.4 193.5,610.4 202.5,606.7 211.5,600.0 220.5,602.2 229.5,604.0 238.5,606.4 247.5,608.4 256.5,606.4 265.5,602.2 274.5,599.3 283.5,606.4 292.5,610.6 301.5,607.6 310.5,606.4 319.5,606.4 328.5,606.4 337.5,603.4 346.5,609.4 355.5,606.1 364.5,605.4 373.5,598.7 382.5,603.6 391.5,606.3 400.5,598.1 409.5,596.4 418.5,589.0 427.5,589.3 436.5,589.3 445.5,589.3 454.5,595.2 463.5,601.1 472.5,590.0 481.5,593.7 490.5,593.1 499.5,603.0 508.5,595.0 517.5,596.9 526.5,599.6 535.5,611.7 544.5,628.3 553.5,625.6 562.5,626.5 571.5,615.9 580.5,566.7 589.5,637.7" fill="none" stroke="#b25ad6" stroke-width="1.0" stroke-linejoin="round"/>
<polyline points="3.0,610.5 4.5,610.3 13.5,608.8 22.5,609.3 31.5,615.2 40.5,615.2 49.5,613.7 58.5,612.2 67.5,608.2 76.5,609.3 85.5,613.3 94.5,612.2 103.5,610.4 112.5,607.9 121.5,610.4 130.5,608.9 139.5,608.9 148.5,610.4 157.5,608.9 166.5,607.4 175.5,608.4 184.5,606.4 193.5,607.6 202.5,605.2 211.5,601.0 220.5,603.0 229.5,603.7 238.5,605.2 247.5,606.7 256.5,605.2 265.5,602.5 274.5,600.4 283.5,604.9 292.5,607.3 301.5,605.4 310.5,604.6 319.5,604.6 328.5,604.6 337.5,602.4 346.5,606.1 355.5,603.9 364.5,603.1 373.5,598.0 382.5,601.6 391.5,603.8 400.5,597.4 409.5,595.9 418.5,590.7 427.5,591.5 436.5,591.5 445.5,591.5 454.5,595.9 463.5,600.4 472.5,592.2 481.5,595.6 490.5,595.0 499.5,603.3 508.5,597.4 517.5,598.7 526.5,601.5 535.5,612.2 544.5,627.8 553.5,625.2 562.5,625.9 571.5,615.4 580.5,566.7 589.5,637.7" fill="none" stroke="#62b462" stroke-width="1.0" stroke-linejoin="round"/>
<path transform="translate(10.40,41.60) scale(1.1000)" d="M1,1.2H9 M0.4,5H9.6 M3.4,1.2V5.6Q3.2,8.6 1,9.8 M6.6,1.2V9.9" fill="none" stroke="#1a1a1a" stroke-width="1.091" stroke-linecap="square"/>
<text x="22.4" y="50.8" fill="#1a1a1a" font-size="12" stroke="#1a1a1a" stroke-width="0.3" font-weight="bold">:</text>
<text x="27.5" y="50.8" fill="#1a9e1a" font-size="12" textLength="36.7" lengthAdjust="spacingAndGlyphs" stroke="#1a9e1a" stroke-width="0.3" >1.2437</text>
<path transform="translate(74.50,41.60) scale(1.1000)" d="M5,0V1.3 M0.2,1.4H9.8 M2.2,2.7H7.8V3.9H2.2Z M1,5.2V9.9 M1,5.2H9V9.3Q9,9.8 8.1,9.7 M3.2,6.9H6.8V8.7H3.2Z" fill="none" stroke="#1a1a1a" stroke-width="1.091" stroke-linecap="square"/>
<text x="86.5" y="50.8" fill="#1a1a1a" font-size="12" stroke="#1a1a1a" stroke-width="0.3" font-weight="bold">:</text>
<text x="91.1" y="50.8" fill="#1a9e1a" font-size="12" textLength="36.7" lengthAdjust="spacingAndGlyphs" stroke="#1a9e1a" stroke-width="0.3" >1.2449</text>
<path transform="translate(137.70,41.60) scale(1.1000)" d="M2.6,0.2Q2,2.6 0.2,4.6 M1.7,2.8V9.9 M4.2,1.8Q7,1.4 9.2,0.5 M4.4,1.8V8.8 M4.4,8.8L5.6,8.2 M4.4,4.8H9.8 M6.6,1.5Q6.9,7 9.9,9.6 M6,9.2L7.2,9.9" fill="none" stroke="#1a1a1a" stroke-width="1.091" stroke-linecap="square"/>
<text x="149.7" y="50.8" fill="#1a1a1a" font-size="12" stroke="#1a1a1a" stroke-width="0.3" font-weight="bold">:</text>
<text x="154.3" y="50.8" fill="#1a9e1a" font-size="12" textLength="36.7" lengthAdjust="spacingAndGlyphs" stroke="#1a9e1a" stroke-width="0.3" >1.2400</text>
<path transform="translate(201.00,41.60) scale(1.1000)" d="M0.8,2.4V7.2L3.4,5.8 M3.6,0.3V9.9 M5.8,0.2Q5.5,2.6 4.4,4.2 M5.4,2.4H9.6 M8.4,2.4Q7.6,7.2 4.4,9.8 M5.8,4.6Q7.4,8.2 9.8,9.8" fill="none" stroke="#1a1a1a" stroke-width="1.091" stroke-linecap="square"/>
<text x="213.0" y="50.8" fill="#1a1a1a" font-size="12" stroke="#1a1a1a" stroke-width="0.3" font-weight="bold">:</text>
<text x="217.7" y="50.8" fill="#1a9e1a" font-size="12" textLength="36.7" lengthAdjust="spacingAndGlyphs" stroke="#1a9e1a" stroke-width="0.3" >1.2418</text>
<text x="10.9" y="65" fill="#e84c80" font-size="12" textLength="72.3" lengthAdjust="spacingAndGlyphs" stroke="#e84c80" stroke-width="0.3" >MA5: 1.2390</text>
<text x="94.9" y="65" fill="#38c4e0" font-size="12" textLength="77.2" lengthAdjust="spacingAndGlyphs" stroke="#38c4e0" stroke-width="0.3" >MA10: 1.2392</text>
<text x="182.7" y="65" fill="#b452cc" font-size="12" textLength="78.1" lengthAdjust="spacingAndGlyphs" stroke="#b452cc" stroke-width="0.3" >MA20: 1.2462</text>
<text x="11.1" y="368.7" fill="#ee3a3a" font-size="12" textLength="78.7" lengthAdjust="spacingAndGlyphs" >MACD:0.0000</text>
<text x="99.3" y="368.7" fill="#4a9fe8" font-size="12" textLength="67.4" lengthAdjust="spacingAndGlyphs" >DIFF:0.0000</text>
<text x="176.3" y="368.7" fill="#f27a2c" font-size="12" textLength="66.3" lengthAdjust="spacingAndGlyphs" >DEA:0.0000</text>
<text x="10.9" y="466.6" fill="#2fbfdc" font-size="12" textLength="55.7" lengthAdjust="spacingAndGlyphs" >K:35.8025</text>
<text x="77" y="466.6" fill="#8a55d4" font-size="12" textLength="57" lengthAdjust="spacingAndGlyphs" >D:35.8025</text>
<text x="143.7" y="466.6" fill="#62b462" font-size="12" textLength="54.4" lengthAdjust="spacingAndGlyphs" >J:35.8025</text>
<text x="11" y="563.7" fill="#f47a2a" font-size="12" textLength="74.7" lengthAdjust="spacingAndGlyphs" >RSI(6):0.0000</text>
<text x="95.4" y="563.7" fill="#b25ad6" font-size="12" textLength="82.2" lengthAdjust="spacingAndGlyphs" >RSI(12):0.0000</text>
<text x="187.6" y="563.7" fill="#62b462" font-size="12" textLength="82.1" lengthAdjust="spacingAndGlyphs" >RSI(24):0.0000</text>
</svg>
</body></html>
